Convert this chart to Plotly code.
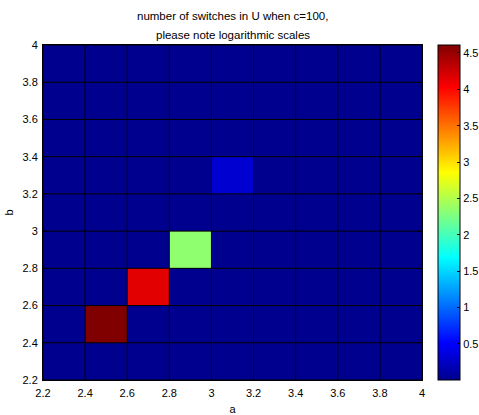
import plotly.graph_objects as go

a_edges = [2.2, 2.4, 2.6, 2.8, 3.0, 3.2, 3.4, 3.6, 3.8, 4.0]
b_edges = [2.2, 2.4, 2.6, 2.8, 3.0, 3.2, 3.4, 3.6, 3.8, 4.0]

# log10 of number of switches; rows = b cells (bottom to top), cols = a cells
z = [
    [0, 0, 0, 0, 0, 0, 0, 0, 0],
    [0, 4.61, 0, 0, 0, 0, 0, 0, 0],
    [0, 0, 4.16, 0, 0, 0, 0, 0, 0],
    [0, 0, 0, 2.34, 0, 0, 0, 0, 0],
    [0, 0, 0, 0, 0, 0, 0, 0, 0],
    [0, 0, 0, 0, 0.3, 0, 0, 0, 0],
    [0, 0, 0, 0, 0, 0, 0, 0, 0],
    [0, 0, 0, 0, 0, 0, 0, 0, 0],
    [0, 0, 0, 0, 0, 0, 0, 0, 0],
]

cb_ticks = [0.5, 1, 1.5, 2, 2.5, 3, 3.5, 4, 4.5]
ax_ticks = [2.2, 2.4, 2.6, 2.8, 3.0, 3.2, 3.4, 3.6, 3.8, 4.0]
ax_ticktext = ["2.2", "2.4", "2.6", "2.8", "3", "3.2", "3.4", "3.6", "3.8", "4"]
title_lines = ["number of switches in U when c=100,", "please note logarithmic scales"]

jet = [
    [0.0, "rgb(0,0,143)"],
    [0.111, "rgb(0,0,255)"],
    [0.365, "rgb(0,255,255)"],
    [0.619, "rgb(255,255,0)"],
    [0.873, "rgb(255,0,0)"],
    [1.0, "rgb(128,0,0)"],
]

font = dict(family="Liberation Sans, Arial, sans-serif", size=11, color="black")
tfont = dict(family="Liberation Sans, Arial, sans-serif", size=11.5, color="black")

fig = go.Figure(
    go.Heatmap(
        x=a_edges,
        y=b_edges,
        z=z,
        colorscale=jet,
        zmin=0,
        zmax=4.61,
        colorbar=dict(
            x=1.042,
            xanchor="left",
            xpad=0,
            ypad=0,
            y=0.5,
            yanchor="middle",
            len=1,
            lenmode="fraction",
            thickness=22,
            thicknessmode="pixels",
            outlinecolor="black",
            outlinewidth=1,
            tickvals=cb_ticks,
            ticktext=["0.5", "1", "1.5", "2", "2.5", "3", "3.5", "4", "4.5"],
            ticks="inside",
            ticklen=3,
            tickcolor="black",
            tickfont=font,
        ),
    )
)

# cell edge lines (pcolor-style faceted grid)
shapes = []
for xv in a_edges:
    shapes.append(dict(type="line", xref="x", yref="y", x0=xv, x1=xv,
                       y0=b_edges[0], y1=b_edges[-1],
                       line=dict(color="black", width=1), layer="above"))
for yv in b_edges:
    shapes.append(dict(type="line", xref="x", yref="y", y0=yv, y1=yv,
                       x0=a_edges[0], x1=a_edges[-1],
                       line=dict(color="black", width=1), layer="above"))

annotations = [
    dict(text=title_lines[0], xref="paper", yref="paper", x=0.5, y=1 + 29 / 335,
         xanchor="center", yanchor="middle", showarrow=False, font=tfont),
    dict(text=title_lines[1], xref="paper", yref="paper", x=0.5, y=1 + 10 / 335,
         xanchor="center", yanchor="middle", showarrow=False, font=tfont),
]

fig.update_layout(
    width=479,
    height=415,
    margin=dict(l=43, r=57, t=45, b=35, autoexpand=False),
    paper_bgcolor="white",
    plot_bgcolor="white",
    font=font,
    shapes=shapes,
    annotations=annotations,
)

fig.update_xaxes(
    range=[2.2, 4.0],
    tickvals=ax_ticks,
    ticktext=ax_ticktext,
    ticks="inside",
    ticklen=4,
    tickcolor="black",
    ticklabelstandoff=3,
    showgrid=False,
    zeroline=False,
    showline=True,
    linecolor="black",
    linewidth=1,
    mirror="ticks",
    title=dict(text="a", font=font, standoff=8),
)
fig.update_yaxes(
    range=[2.2, 4.0],
    tickvals=ax_ticks,
    ticktext=ax_ticktext,
    ticks="inside",
    ticklen=4,
    tickcolor="black",
    ticklabelstandoff=2,
    showgrid=False,
    zeroline=False,
    showline=True,
    linecolor="black",
    linewidth=1,
    mirror="ticks",
    title=dict(text="b", font=font, standoff=6),
)

fig.write_html("out.html")
